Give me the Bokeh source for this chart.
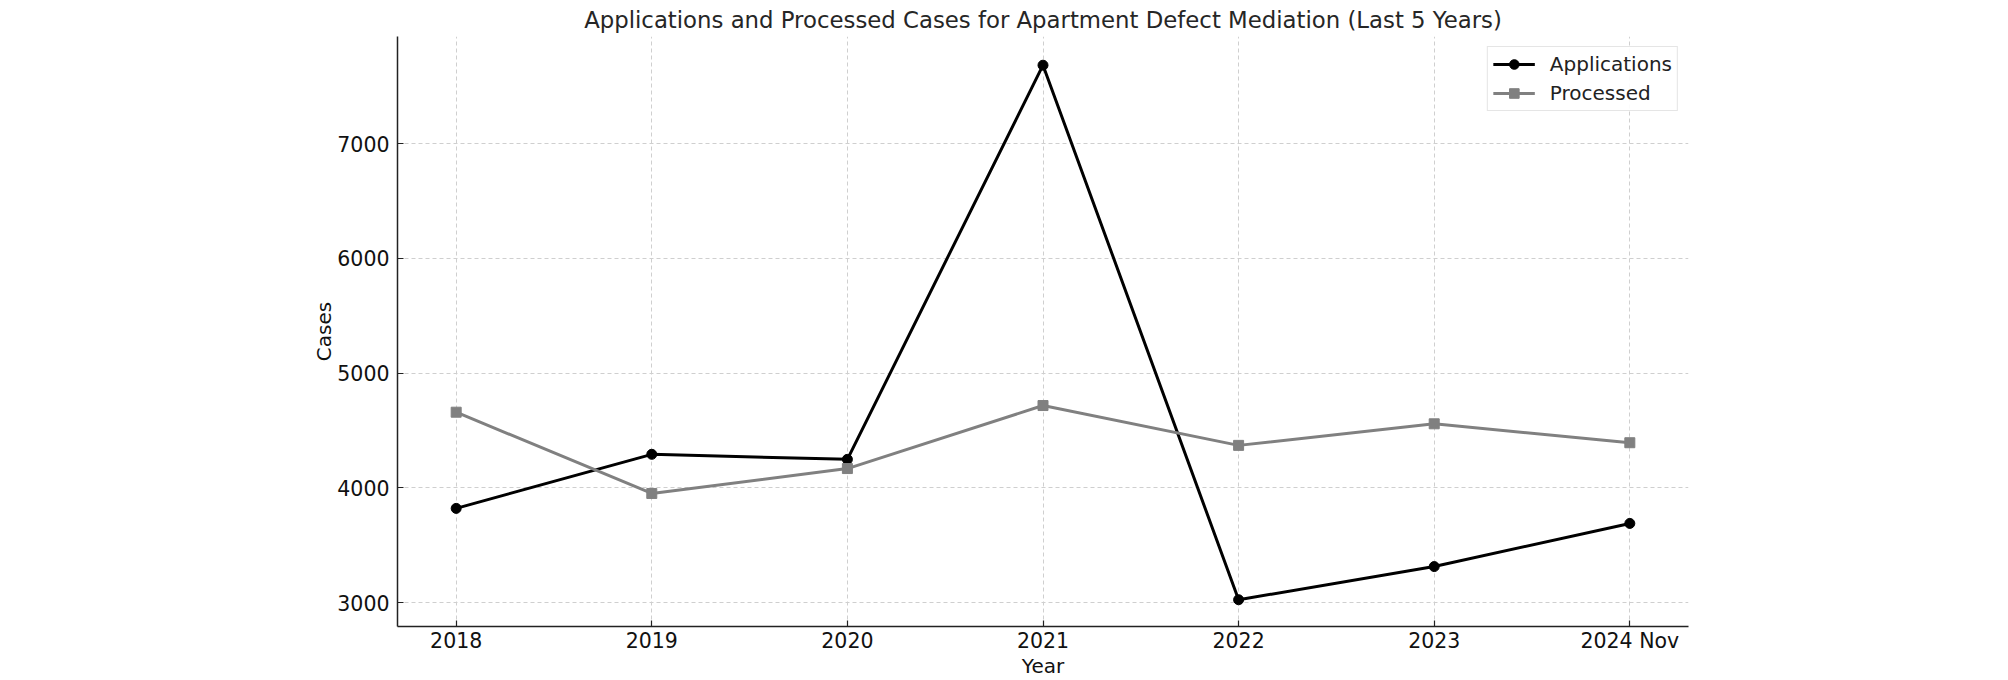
from bokeh.plotting import figure
from bokeh.models import Range1d, FixedTicker, Legend, LegendItem
from bokeh.embed import file_html
from bokeh.resources import INLINE

categories = ["2018", "2019", "2020", "2021", "2022", "2023", "2024 Nov"]
applications = [3822, 4293, 4249, 7683, 3026, 3315, 3691]
processed = [4660, 3952, 4169, 4718, 4371, 4559, 4394]
y_ticks = [3000, 4000, 5000, 6000, 7000]

FONT = "DejaVu Sans"
xs = list(range(len(categories)))

p = figure(width=2008, height=680, output_backend="svg", toolbar_location=None,
           x_range=Range1d(-0.3, 6.3), y_range=Range1d(2793, 7933),
           title="Applications and Processed Cases for Apartment Defect Mediation (Last 5 Years)",
           min_border_left=397, min_border_right=320, min_border_top=36, min_border_bottom=53)

p.title.align = "center"
p.title.text_font = FONT
p.title.text_font_size = "22.8px"
p.title.text_font_style = "normal"
p.title.text_color = "#262626"
p.title.standoff = 7

p.outline_line_color = None
p.background_fill_color = "white"
p.border_fill_color = "white"

for ax in (p.xaxis[0], p.yaxis[0]):
    ax.axis_line_color = "#222222"
    ax.axis_line_width = 1.5
    ax.major_tick_line_color = "#222222"
    ax.major_tick_line_width = 1.2
    ax.major_tick_in = 6
    ax.major_tick_out = 0
    ax.minor_tick_line_color = None
    ax.major_label_text_font = FONT
    ax.major_label_text_font_size = "20.5px"
    ax.major_label_text_color = "#111111"
    ax.axis_label_text_font = FONT
    ax.axis_label_text_font_size = "20px"
    ax.axis_label_text_font_style = "normal"
    ax.axis_label_text_color = "#111111"

p.xaxis.ticker = FixedTicker(ticks=xs)
p.xaxis.major_label_overrides = {i: c for i, c in zip(xs, categories)}
p.xaxis.axis_label = "Year"
p.xaxis.major_label_standoff = 2
p.xaxis.axis_label_standoff = -2

p.yaxis.ticker = FixedTicker(ticks=y_ticks)
p.yaxis.axis_label = "Cases"
p.yaxis.major_label_standoff = 8
p.yaxis.axis_label_standoff = -2

p.xgrid.grid_line_color = "#cfcfcf"
p.ygrid.grid_line_color = "#cfcfcf"
p.xgrid.grid_line_dash = "4 3"
p.ygrid.grid_line_dash = "4 3"
p.xgrid.grid_line_width = 1
p.ygrid.grid_line_width = 1

a_line = p.line(xs, applications, line_color="black", line_width=3)
a_pts = p.scatter(xs, applications, marker="circle", size=10, fill_color="black", line_color="black")
p_line = p.line(xs, processed, line_color="#808080", line_width=3)
p_pts = p.scatter(xs, processed, marker="square", size=10, fill_color="#808080", line_color="#808080")

legend = Legend(items=[
    LegendItem(label="Applications", renderers=[a_line, a_pts]),
    LegendItem(label="Processed", renderers=[p_line, p_pts]),
], location="top_right")
legend.label_text_font = FONT
legend.label_text_font_size = "20px"
legend.label_text_color = "#222222"
legend.glyph_width = 42
legend.glyph_height = 24
legend.label_height = 24
legend.label_standoff = 15
legend.spacing = 5
legend.padding = 5
legend.margin = 10
legend.border_line_color = "#cccccc"
legend.border_line_width = 1
legend.background_fill_alpha = 0.9
p.add_layout(legend, "center")

open("out.html", "w").write(file_html(p, INLINE))
